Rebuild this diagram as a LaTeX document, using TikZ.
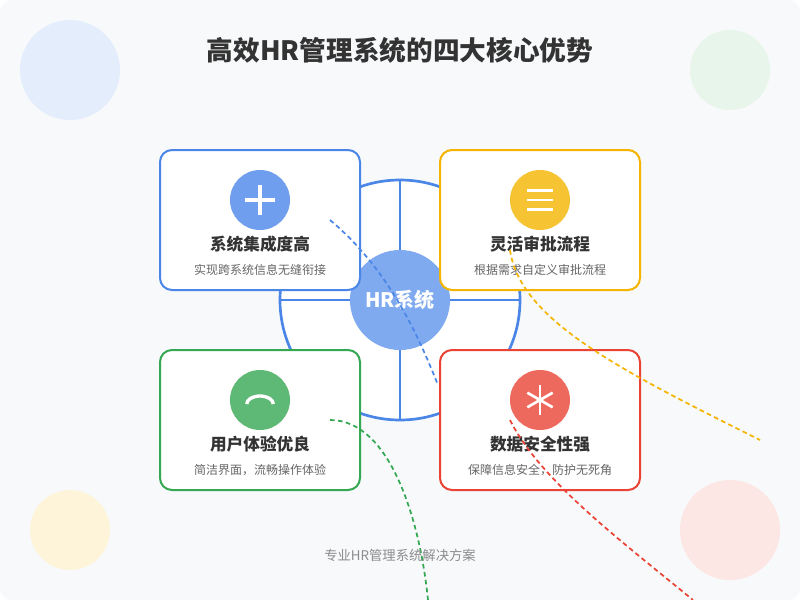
\documentclass[tikz,border=0pt]{standalone}
\usepackage{fontspec}
\setmainfont{Noto Sans CJK SC}
\usetikzlibrary{positioning}
\definecolor{bgc}{HTML}{F7F9FB}
\definecolor{hrblue}{HTML}{4A86E8}
\definecolor{hrgold}{HTML}{F4B400}
\definecolor{hrgreen}{HTML}{34A853}
\definecolor{hrred}{HTML}{EA4335}
\begin{document}
\begin{tikzpicture}
[x=0.75pt,y=-0.75pt,
 card/.style={draw=#1,line width=1.5pt,fill=white,rounded corners=9pt,minimum width=150pt,minimum height=105pt},
 icon/.style={circle,fill=#1,minimum size=45pt,inner sep=0pt},
 ctitle/.style={font=\fontsize{12.5}{14}\selectfont\bfseries,text=black!80},
 csub/.style={font=\fontsize{9}{10}\selectfont,text=black!60},
 deco/.style={circle,fill=#1,inner sep=0pt},
 link/.style={dash pattern=on 3.5pt off 2.5pt,line width=1.3pt,draw=#1},
 glyph/.style={white,line width=2.5pt}]

% background
\path[use as bounding box,fill=bgc,rounded corners=9pt] (0,0) rectangle (800,600);
\node[deco=hrblue!15,minimum size=75pt]  (D1) at (70,70)   {};
\node[deco=hrgreen!12,minimum size=60pt] (D2) at (730,70)  {};
\node[deco=hrgold!15,minimum size=60pt]  (D3) at (70,530)  {};
\node[deco=hrred!13,minimum size=75pt]   (D4) at (730,530) {};

\node[font=\fontsize{20}{24}\selectfont\bfseries,text=black!80] (Title) at (400,50) {高效HR管理系统的四大核心优势};

% hub
\node[circle,draw=hrblue,line width=2pt,fill=white,minimum size=180pt,inner sep=0pt] (Ring) at (400,300) {};
\draw[hrblue,line width=1.5pt] (Ring.north) -- (Ring.south);
\draw[hrblue,line width=1.5pt] (Ring.west) -- (Ring.east);
\node[circle,fill=hrblue!70,minimum size=75pt,inner sep=0pt,text=white,font=\fontsize{15}{17}\selectfont\bfseries] (Hub) at (400,300) {HR系统};

% cards
\node[card=hrblue]  (CardA) at (260,220) {};
\node[card=hrgold]  (CardB) at (540,220) {};
\node[card=hrgreen] (CardC) at (260,420) {};
\node[card=hrred]   (CardD) at (540,420) {};

\node[icon=hrblue!80]  (IconA) at (260,200) {};
\node[icon=hrgold!80]  (IconB) at (540,200) {};
\node[icon=hrgreen!80] (IconC) at (260,400) {};
\node[icon=hrred!80]   (IconD) at (540,400) {};
\draw[glyph] ([xshift=-11pt]IconA.center) -- ([xshift=11pt]IconA.center);
\draw[glyph] ([yshift=-11pt]IconA.center) -- ([yshift=11pt]IconA.center);
\foreach \dy in {-7,0,7}
  \draw[white,line width=2pt] ([xshift=-10pt,yshift=\dy pt]IconB.center) -- ([xshift=10pt,yshift=\dy pt]IconB.center);
\draw[glyph,line width=2.5pt] ([xshift=-10pt,yshift=-3pt]IconC.center) arc (180:0:10pt and 6pt);
\foreach \a in {90,30,150}
  \draw[white,line width=2pt] (IconD.center) ++(\a:11pt) -- ++(\a+180:22pt);

\node[ctitle] (TitleA) at (260,244) {系统集成度高};
\node[ctitle] (TitleB) at (540,244) {灵活审批流程};
\node[ctitle] (TitleC) at (260,444) {用户体验优良};
\node[ctitle] (TitleD) at (540,444) {数据安全性强};
\node[csub] (SubA) at (260,270) {实现跨系统信息无缝衔接};
\node[csub] (SubB) at (540,270) {根据需求自定义审批流程};
\node[csub] (SubC) at (260,470) {简洁界面，流畅操作体验};
\node[csub] (SubD) at (540,470) {保障信息安全，防护无死角};

% dashed links
\coordinate (EndA) at (438,385);
\coordinate (EndB) at (760,440);
\coordinate (EndC) at (428,600);
\coordinate (EndD) at (693,600);
\draw[link=hrblue]  (330,220) .. controls (390,270) and (420,340) .. (EndA);
\draw[link=hrgold]  (510,250) .. controls (520,320) and (620,370) .. (EndB);
\draw[link=hrgreen] (330,420) .. controls (390,420) and (420,520) .. (EndC);
\draw[link=hrred]   (510,420) .. controls (540,480) and (620,540) .. (EndD);

\node[font=\fontsize{10}{12}\selectfont,text=black!45] (Foot) at (400,555) {专业HR管理系统解决方案};
\end{tikzpicture}
\end{document}
